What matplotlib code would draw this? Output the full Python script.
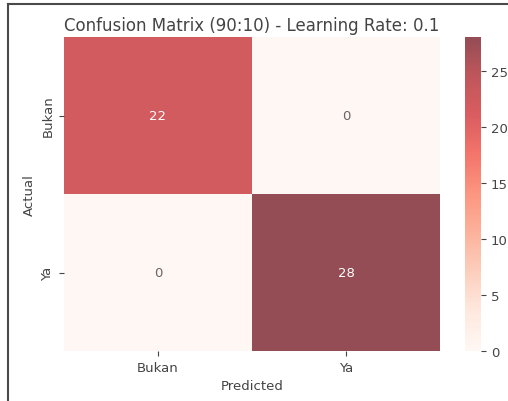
import matplotlib

matplotlib.use("Agg")
import matplotlib.pyplot as plt
import numpy as np
import seaborn as sns
from matplotlib.colors import to_rgb
from matplotlib.lines import Line2D

labels = ["Bukan", "Ya"]
confusion = np.array([
    [22, 0],
    [0, 28],
])
title = "Confusion Matrix (90:10) - Learning Rate: 0.1"

text_color = "#444444"
W, H = 508, 402

fig = plt.figure(figsize=(W / 100, H / 100), dpi=100)
ax = fig.add_axes([64 / W, 50 / H, 376 / W, 314 / H])
cax = fig.add_axes([465 / W, 50 / H, 16 / W, 314 / H])

sns.heatmap(
    confusion,
    annot=True,
    fmt="d",
    cmap="Reds",
    alpha=0.7,
    xticklabels=labels,
    yticklabels=labels,
    ax=ax,
    cbar_ax=cax,
    annot_kws={"fontsize": 9.5},
)
# dark annotations look faded in the original
for txt in ax.texts:
    if to_rgb(txt.get_color()) != (1.0, 1.0, 1.0):
        txt.set_alpha(0.7)

ax.set_title(title, fontsize=12, color=text_color, pad=5)
ax.set_xlabel("Predicted", fontsize=9.5, color=text_color)
ax.set_ylabel("Actual", fontsize=9.5, color=text_color)
ax.tick_params(colors=text_color, labelsize=9.5)
cax.tick_params(colors=text_color, labelsize=9.5)

# screenshot frame
fig.add_artist(Line2D([8 / W, 1], [1 - 5 / H, 1 - 5 / H], color="#4a4a4a", lw=1.5))
fig.add_artist(Line2D([8 / W, 8 / W], [0, 1 - 5 / H], color="#4a4a4a", lw=1.5))

fig.savefig("out.png", dpi=100)
